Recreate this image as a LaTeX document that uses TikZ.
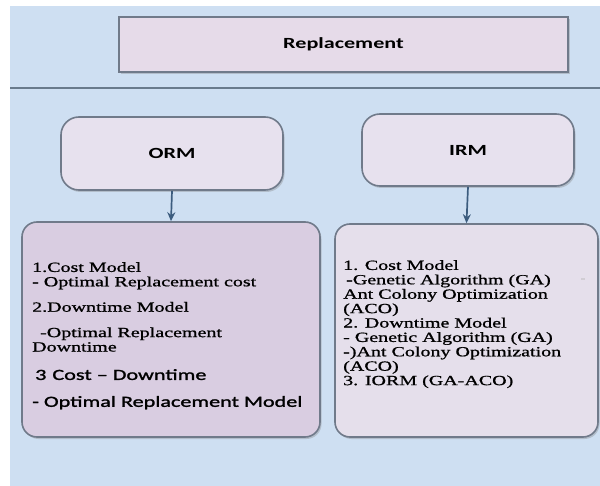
\documentclass[tikz,border=0pt]{standalone}
\usepackage{fontspec}
\usepackage{xcolor}
\usetikzlibrary{shadows,arrows.meta}
\newfontfamily\boxserif[FakeStretch=1.43,FakeBold=1]{Liberation Serif}
\newfontfamily\boxsans[FakeStretch=1.43]{Carlito}
\newfontfamily\boxsemi[FakeStretch=1.43,FakeBold=1.6]{Carlito}
\definecolor{bgblue}{RGB}{206,223,242}
\definecolor{rulegray}{RGB}{105,122,140}
\definecolor{edgegray}{RGB}{112,122,138}
\definecolor{titlefill}{RGB}{230,219,233}
\definecolor{headfill}{RGB}{231,225,238}
\definecolor{ormfill}{RGB}{217,205,225}
\definecolor{irmfill}{RGB}{229,223,235}
\definecolor{arrowblue}{RGB}{60,92,126}

\begin{document}
\begin{tikzpicture}[x=1pt,y=-1pt,
    box/.style={draw=edgegray, line width=1.6pt,
        drop shadow={shadow xshift=1.5pt, shadow yshift=-2pt, opacity=0.35}},
    headbox/.style={box, rounded corners=18pt, fill=headfill,
        font=\boxsans\bfseries\fontsize{15.5}{18}\selectfont},
    listbox/.style={box, rounded corners=15pt},
    listtext/.style={anchor=north west, align=left, inner sep=0pt,
        font=\boxserif\fontsize{14}{14.4}\selectfont},
    link/.style={-{Stealth[length=9pt,width=8pt]}, line width=1.7pt, draw=arrowblue}]
    \useasboundingbox (0,0) rectangle (600,486);
    % Background
    \fill[bgblue] (10,6) rectangle (600,486);
    \draw[rulegray, line width=1.5pt] (10,88) -- (600,88);
    % Title
    \node[box, fill=titlefill, minimum width=449pt, minimum height=55pt,
        font=\boxsans\bfseries\fontsize{15.5}{18}\selectfont] (repl) at (343.5,44.5) {Replacement};
    % Model heads
    \node[headbox, minimum width=222pt, minimum height=73pt] (orm) at (172,153.5) {ORM};
    \node[headbox, minimum width=212pt, minimum height=72pt] (irm) at (468,150) {IRM};
    % Model lists
    \node[listbox, fill=ormfill, minimum width=298pt, minimum height=215pt] (ormlist) at (171,329.5) {};
    \node[listbox, fill=irmfill, minimum width=263pt, minimum height=213pt] (irmlist) at (466.5,330.5) {};
    \draw[link] (orm.south) -- (ormlist.north);
    \draw[link] (irm.south) -- (irmlist.north);
    % Labels
    \node[listtext] (ormitems) at (32,262) {1.Cost Model\\
        - Optimal Replacement cost\\[11pt]
        2.Downtime Model\\[11pt]
        \hspace*{8pt}-Optimal Replacement\\
        Downtime\\[14pt]
        {\boxsemi\fontsize{15.5}{14.4}\selectfont\hspace*{3pt}3\hspace{6pt}Cost – Downtime}\\[12.5pt]
        {\boxsemi\fontsize{15.5}{14.4}\selectfont - Optimal Replacement Model}};
    \node[listtext] (irmitems) at (343,260) {1. Cost Model\\
        \hspace*{3pt}-Genetic Algorithm (GA)\\
        Ant Colony Optimization\\
        (ACO)\\
        2. Downtime Model\\
        - Genetic Algorithm (GA)\\
        -)Ant Colony Optimization\\
        (ACO)\\
        3. IORM (GA-ACO)};
    \node[text=gray!55, font=\boxserif\fontsize{10}{10}\selectfont, inner sep=0pt] (mark) at (583,280) {-};
\end{tikzpicture}
\end{document}
